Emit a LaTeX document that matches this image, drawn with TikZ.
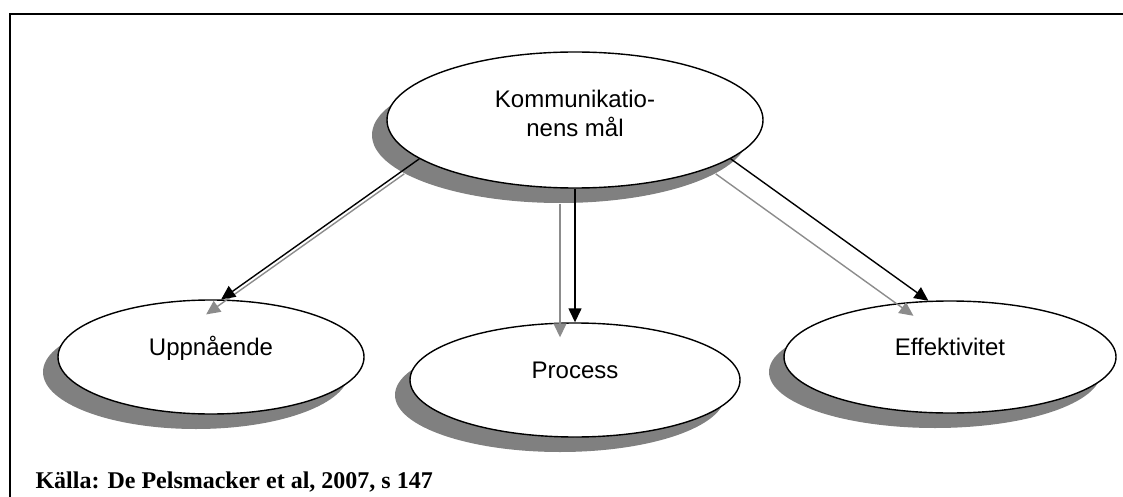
\documentclass[tikz,border=0pt]{standalone}
\usepackage{fontspec}
\setmainfont{Liberation Serif}
\setsansfont{Liberation Sans}
\usetikzlibrary{shapes.geometric}
\usetikzlibrary{shadows}
\usetikzlibrary{arrows.meta}

\definecolor{shadowgray}{RGB}{128,128,128}
\definecolor{arrowgray}{RGB}{140,140,140}

\tikzset{
    goalbox/.style={ellipse, draw, line width=1.4pt, fill=white, inner sep=0pt,
        font=\sffamily\fontsize{24}{29}\selectfont, align=center,
        drop shadow={shadow xshift=-15pt, shadow yshift=-15pt, fill=shadowgray, opacity=1}},
    onelabel/.style={text height=18pt, text depth=22pt},
    mainarrow/.style={-{Triangle[length=14pt, width=13pt]}, line width=1.4pt, black},
    shadowarrow/.style={-{Triangle[length=14pt, width=13pt]}, line width=1.4pt, arrowgray}
}

\begin{document}
\begin{tikzpicture}[x=1pt, y=-1pt]
    \useasboundingbox (0,0) rectangle (1123,497);

    % frame, only top and left edge show up
    \draw [line width=2.2pt] (10,497) -- (10,14) -- (1123,14);

    % the four ellipses
    \node [goalbox, minimum width=376pt, minimum height=136pt, text height=47pt, text depth=13pt]
        (goal) at (575,120) {Kommunikatio-\\nens mål};
    \node [goalbox, onelabel, minimum width=306pt, minimum height=114pt] (reach) at (211,357) {Uppnående};
    \node [goalbox, onelabel, minimum width=330pt, minimum height=114pt] (process) at (575,380) {Process};
    \node [goalbox, onelabel, minimum width=332pt, minimum height=112pt] (effect) at (950,357) {Effektivitet};

    % gray copies of the arrows, pushed left and down
    \draw [shadowarrow] ([shift={(-15,15)}]goal.194) -- ([shift={(-15,15)}]reach.80);
    \draw [shadowarrow] ([shift={(-15,15)}]goal.south) -- ([shift={(-15,15)}]process.north);
    \draw [shadowarrow] ([shift={(-15,15)}]goal.346) -- ([shift={(-15,15)}]effect.111);

    % the real arrows
    \draw [mainarrow] (goal.194) -- (reach.80);
    \draw [mainarrow] (goal.south) -- (process.north);
    \draw [mainarrow] (goal.346) -- (effect.111);

    \node [anchor=base west, font=\bfseries\fontsize{24}{29}\selectfont] (source) at (32,488)
        {Källa: De Pelsmacker et al, 2007, s 147};
\end{tikzpicture}
\end{document}
